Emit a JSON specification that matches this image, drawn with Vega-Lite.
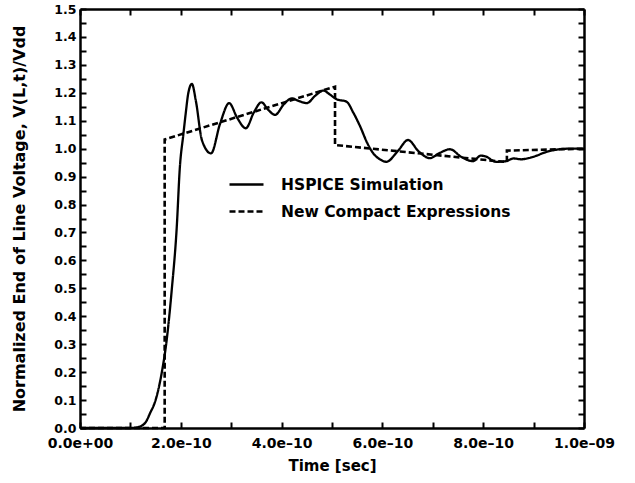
{
  "$schema": "https://vega.github.io/schema/vega-lite/v6.json",
  "width": 504,
  "height": 419,
  "autosize": "none",
  "padding": {"left": 80, "top": 9, "right": 51, "bottom": 55},
  "background": "white",
  "config": {
    "view": {"stroke": null},
    "axis": {
      "labelFont": "DejaVu Sans", "labelFontWeight": "bold", "labelFontSize": 13, "labelColor": "black",
      "titleFont": "DejaVu Sans", "titleFontWeight": "bold", "titleFontSize": 15, "titleColor": "black",
      "domainColor": "black", "domainWidth": 2.5, "tickColor": "black", "tickWidth": 2, "tickSize": -6,
      "grid": false, "labelOverlap": false, "labelFlush": false, "labelBound": false
    },
    "legend": {
      "symbolType": "stroke", "symbolSize": 1156, "symbolStrokeWidth": 2.5, "symbolStrokeColor": "black",
      "labelFont": "DejaVu Sans", "labelFontWeight": "bold", "labelFontSize": 15.5, "labelColor": "black",
      "labelOffset": 16, "rowPadding": 0, "labelLimit": 400
    }
  },
  "data": {"values": [
    {"s": "HSPICE Simulation", "i": 0, "t": 0, "v": 0},
    {"s": "HSPICE Simulation", "i": 1, "t": 1.0e-10, "v": 0},
    {"s": "HSPICE Simulation", "i": 2, "t": 1.15e-10, "v": 0.003},
    {"s": "HSPICE Simulation", "i": 3, "t": 1.3e-10, "v": 0.02},
    {"s": "HSPICE Simulation", "i": 4, "t": 1.39e-10, "v": 0.053},
    {"s": "HSPICE Simulation", "i": 5, "t": 1.5e-10, "v": 0.1},
    {"s": "HSPICE Simulation", "i": 6, "t": 1.62e-10, "v": 0.196},
    {"s": "HSPICE Simulation", "i": 7, "t": 1.72e-10, "v": 0.315},
    {"s": "HSPICE Simulation", "i": 8, "t": 1.82e-10, "v": 0.494},
    {"s": "HSPICE Simulation", "i": 9, "t": 1.92e-10, "v": 0.72},
    {"s": "HSPICE Simulation", "i": 10, "t": 1.98e-10, "v": 0.93},
    {"s": "HSPICE Simulation", "i": 11, "t": 2.05e-10, "v": 1.05},
    {"s": "HSPICE Simulation", "i": 12, "t": 2.1e-10, "v": 1.13},
    {"s": "HSPICE Simulation", "i": 13, "t": 2.15e-10, "v": 1.2},
    {"s": "HSPICE Simulation", "i": 14, "t": 2.22e-10, "v": 1.232},
    {"s": "HSPICE Simulation", "i": 15, "t": 2.3e-10, "v": 1.17},
    {"s": "HSPICE Simulation", "i": 16, "t": 2.42e-10, "v": 1.03},
    {"s": "HSPICE Simulation", "i": 17, "t": 2.6e-10, "v": 0.983},
    {"s": "HSPICE Simulation", "i": 18, "t": 2.78e-10, "v": 1.09},
    {"s": "HSPICE Simulation", "i": 19, "t": 2.96e-10, "v": 1.163},
    {"s": "HSPICE Simulation", "i": 20, "t": 3.12e-10, "v": 1.11},
    {"s": "HSPICE Simulation", "i": 21, "t": 3.29e-10, "v": 1.073},
    {"s": "HSPICE Simulation", "i": 22, "t": 3.45e-10, "v": 1.13},
    {"s": "HSPICE Simulation", "i": 23, "t": 3.6e-10, "v": 1.166},
    {"s": "HSPICE Simulation", "i": 24, "t": 3.73e-10, "v": 1.14},
    {"s": "HSPICE Simulation", "i": 25, "t": 3.87e-10, "v": 1.121},
    {"s": "HSPICE Simulation", "i": 26, "t": 4.05e-10, "v": 1.16},
    {"s": "HSPICE Simulation", "i": 27, "t": 4.2e-10, "v": 1.18},
    {"s": "HSPICE Simulation", "i": 28, "t": 4.35e-10, "v": 1.17},
    {"s": "HSPICE Simulation", "i": 29, "t": 4.5e-10, "v": 1.163},
    {"s": "HSPICE Simulation", "i": 30, "t": 4.67e-10, "v": 1.19},
    {"s": "HSPICE Simulation", "i": 31, "t": 4.83e-10, "v": 1.208},
    {"s": "HSPICE Simulation", "i": 32, "t": 4.95e-10, "v": 1.195},
    {"s": "HSPICE Simulation", "i": 33, "t": 5.09e-10, "v": 1.177},
    {"s": "HSPICE Simulation", "i": 34, "t": 5.29e-10, "v": 1.168},
    {"s": "HSPICE Simulation", "i": 35, "t": 5.42e-10, "v": 1.13},
    {"s": "HSPICE Simulation", "i": 36, "t": 5.56e-10, "v": 1.079},
    {"s": "HSPICE Simulation", "i": 37, "t": 5.7e-10, "v": 1.02},
    {"s": "HSPICE Simulation", "i": 38, "t": 5.82e-10, "v": 0.983},
    {"s": "HSPICE Simulation", "i": 39, "t": 5.95e-10, "v": 0.962},
    {"s": "HSPICE Simulation", "i": 40, "t": 6.08e-10, "v": 0.953},
    {"s": "HSPICE Simulation", "i": 41, "t": 6.3e-10, "v": 0.99},
    {"s": "HSPICE Simulation", "i": 42, "t": 6.51e-10, "v": 1.031},
    {"s": "HSPICE Simulation", "i": 43, "t": 6.72e-10, "v": 0.99},
    {"s": "HSPICE Simulation", "i": 44, "t": 6.94e-10, "v": 0.966},
    {"s": "HSPICE Simulation", "i": 45, "t": 7.14e-10, "v": 0.985},
    {"s": "HSPICE Simulation", "i": 46, "t": 7.34e-10, "v": 0.998},
    {"s": "HSPICE Simulation", "i": 47, "t": 7.57e-10, "v": 0.97},
    {"s": "HSPICE Simulation", "i": 48, "t": 7.8e-10, "v": 0.955},
    {"s": "HSPICE Simulation", "i": 49, "t": 7.95e-10, "v": 0.975},
    {"s": "HSPICE Simulation", "i": 50, "t": 8.05e-10, "v": 0.972},
    {"s": "HSPICE Simulation", "i": 51, "t": 8.25e-10, "v": 0.953},
    {"s": "HSPICE Simulation", "i": 52, "t": 8.45e-10, "v": 0.955},
    {"s": "HSPICE Simulation", "i": 53, "t": 8.6e-10, "v": 0.965},
    {"s": "HSPICE Simulation", "i": 54, "t": 8.75e-10, "v": 0.962},
    {"s": "HSPICE Simulation", "i": 55, "t": 8.9e-10, "v": 0.966},
    {"s": "HSPICE Simulation", "i": 56, "t": 9.06e-10, "v": 0.975},
    {"s": "HSPICE Simulation", "i": 57, "t": 9.2e-10, "v": 0.985},
    {"s": "HSPICE Simulation", "i": 58, "t": 9.33e-10, "v": 0.992},
    {"s": "HSPICE Simulation", "i": 59, "t": 9.52e-10, "v": 0.998},
    {"s": "HSPICE Simulation", "i": 60, "t": 9.7e-10, "v": 1.0},
    {"s": "HSPICE Simulation", "i": 61, "t": 1.0e-9, "v": 1.0},
    {"s": "New Compact Expressions", "i": 0, "t": 0, "v": 0},
    {"s": "New Compact Expressions", "i": 1, "t": 1.68e-10, "v": 0},
    {"s": "New Compact Expressions", "i": 2, "t": 1.68e-10, "v": 1.033},
    {"s": "New Compact Expressions", "i": 3, "t": 5.06e-10, "v": 1.222},
    {"s": "New Compact Expressions", "i": 4, "t": 5.06e-10, "v": 1.013},
    {"s": "New Compact Expressions", "i": 5, "t": 8.47e-10, "v": 0.952},
    {"s": "New Compact Expressions", "i": 6, "t": 8.47e-10, "v": 0.993},
    {"s": "New Compact Expressions", "i": 7, "t": 1.0e-9, "v": 1.0}
  ]},
  "layer": [
    {
      "layer": [
        {
          "transform": [{"filter": "datum.s == 'HSPICE Simulation'"}],
          "mark": {"type": "line", "color": "black", "strokeWidth": 2.3, "interpolate": "monotone"},
          "encoding": {
            "x": {"field": "t", "type": "quantitative", "scale": {"domain": [0, 1e-9], "nice": false, "zero": false},
              "title": "Time [sec]",
              "axis": {"orient": "bottom", "values": [0, 1e-10, 2e-10, 3e-10, 4e-10, 5e-10, 6e-10, 7e-10, 8e-10, 9e-10, 1e-9],
                "labelPadding": 14, "titlePadding": 8, "labelFontSize": 14,
                "labelExpr": "round(datum.value*1e10) % 2 == 0 ? ['0.0e+00','2.0e–10','4.0e–10','6.0e–10','8.0e–10','1.0e–09'][round(datum.value*5e9)] : ''",
                "encode": {"ticks": {"y2": {"value": {"expr": "round(datum.value*1e10) % 2 == 0 ? -7 : -4"}}}}}},
            "y": {"field": "v", "type": "quantitative", "scale": {"domain": [0, 1.5], "nice": false, "zero": false},
              "title": "Normalized End of Line Voltage, V(L,t)/Vdd",
              "axis": {"orient": "left", "values": [0,0.05,0.1,0.15,0.2,0.25,0.3,0.35,0.4,0.45,0.5,0.55,0.6,0.65,0.7,0.75,0.8,0.85,0.9,0.95,1,1.05,1.1,1.15,1.2,1.25,1.3,1.35,1.4,1.45,1.5],
                "labelPadding": 10, "titlePadding": 26, "labelFontSize": 12.5, "titleFontSize": 16,
                "labelExpr": "round(datum.value*20) % 2 == 0 ? format(datum.value, '.1f') : ''",
                "encode": {"ticks": {"x2": {"signal": "round(datum.value*20) % 2 == 0 ? 7 : 4"}}}}},
            "strokeDash": {"field": "s", "type": "nominal",
              "scale": {"domain": ["HSPICE Simulation", "New Compact Expressions"], "range": [[1, 0], [6, 3]]},
              "legend": {"title": null, "orient": "none", "legendX": 148, "legendY": 157}},
            "order": {"field": "i", "type": "quantitative"}
          }
        },
        {
          "transform": [{"filter": "datum.s == 'New Compact Expressions'"}],
          "mark": {"type": "line", "color": "black", "strokeWidth": 2.6},
          "encoding": {
            "x": {"field": "t", "type": "quantitative",
              "title": "Time [sec]",
              "axis": {"orient": "bottom", "values": [0, 1e-10, 2e-10, 3e-10, 4e-10, 5e-10, 6e-10, 7e-10, 8e-10, 9e-10, 1e-9],
                "labelPadding": 14, "titlePadding": 8, "labelFontSize": 14,
                "labelExpr": "round(datum.value*1e10) % 2 == 0 ? ['0.0e+00','2.0e–10','4.0e–10','6.0e–10','8.0e–10','1.0e–09'][round(datum.value*5e9)] : ''",
                "encode": {"ticks": {"y2": {"value": {"expr": "round(datum.value*1e10) % 2 == 0 ? -7 : -4"}}}}}},
            "y": {"field": "v", "type": "quantitative",
              "title": "Normalized End of Line Voltage, V(L,t)/Vdd",
              "axis": {"orient": "left", "values": [0,0.05,0.1,0.15,0.2,0.25,0.3,0.35,0.4,0.45,0.5,0.55,0.6,0.65,0.7,0.75,0.8,0.85,0.9,0.95,1,1.05,1.1,1.15,1.2,1.25,1.3,1.35,1.4,1.45,1.5],
                "labelPadding": 10, "titlePadding": 26, "labelFontSize": 12.5, "titleFontSize": 16,
                "labelExpr": "round(datum.value*20) % 2 == 0 ? format(datum.value, '.1f') : ''",
                "encode": {"ticks": {"x2": {"signal": "round(datum.value*20) % 2 == 0 ? 7 : 4"}}}}},
            "strokeDash": {"field": "s", "type": "nominal"},
            "order": {"field": "i", "type": "quantitative"}
          }
        }
      ]
    },
    {
      "mark": {"type": "point", "opacity": 0},
      "encoding": {
        "x": {"field": "t", "type": "quantitative", "title": null,
          "axis": {"orient": "top", "values": [0, 1e-10, 2e-10, 3e-10, 4e-10, 5e-10, 6e-10, 7e-10, 8e-10, 9e-10, 1e-9],
            "labels": false,
            "encode": {"ticks": {"y2": {"value": {"expr": "round(datum.value*1e10) % 2 == 0 ? 7 : 4"}}}}}},
        "y": {"field": "v", "type": "quantitative", "title": null,
          "axis": {"orient": "right", "values": [0,0.05,0.1,0.15,0.2,0.25,0.3,0.35,0.4,0.45,0.5,0.55,0.6,0.65,0.7,0.75,0.8,0.85,0.9,0.95,1,1.05,1.1,1.15,1.2,1.25,1.3,1.35,1.4,1.45,1.5],
            "labels": false,
            "encode": {"ticks": {"x2": {"signal": "round(datum.value*20) % 2 == 0 ? -7 : -4"}}}}}
      }
    }
  ],
  "resolve": {"axis": {"x": "independent", "y": "independent"}}
}
